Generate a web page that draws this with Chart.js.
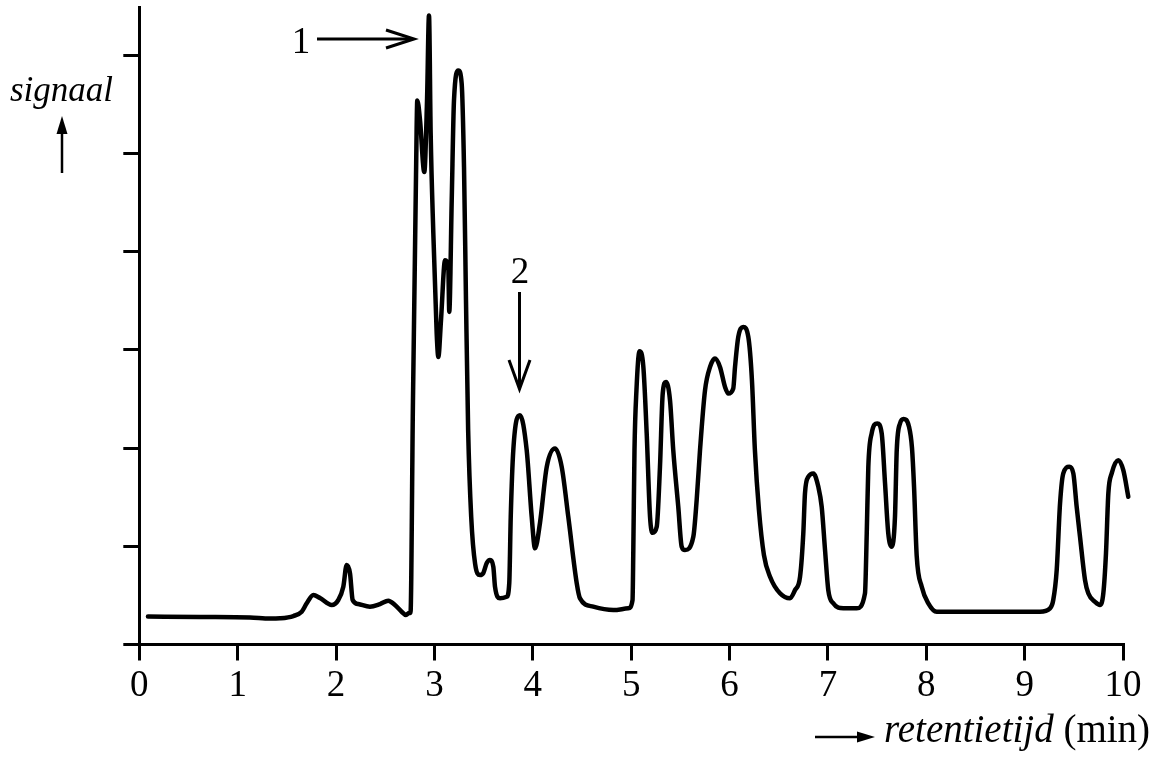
<!DOCTYPE html>
<html>
<head>
<meta charset="utf-8">
<script src="https://cdn.jsdelivr.net/npm/chart.js@4/dist/chart.umd.min.js"></script>
<style>
  html, body { margin: 0; padding: 0; background: #fff; }
  #wrap { width: 1156px; height: 761px; position: relative; }
  canvas { display: block; }
</style>
</head>
<body>
<div id="wrap"><canvas id="c" width="1156" height="761"></canvas></div>
<script>
// Retention time (min) and detector signal (arbitrary units = y tick spacing)
const retentionTime = [
  0.088, 0.617, 1.125, 1.329, 1.430, 1.566, 1.651, 1.702, 1.769, 1.837,
  1.956, 2.023, 2.074, 2.108, 2.142, 2.169, 2.226, 2.345, 2.447, 2.531,
  2.599, 2.667, 2.711, 2.745, 2.757, 2.782, 2.813, 2.826, 2.854, 2.897,
  2.925, 2.945, 2.962, 2.989, 3.023, 3.040, 3.067, 3.108, 3.141, 3.151,
  3.176, 3.199, 3.243, 3.277, 3.301, 3.321, 3.343, 3.374, 3.414, 3.463,
  3.497, 3.532, 3.565, 3.599, 3.616, 3.667, 3.735, 3.761, 3.776, 3.802,
  3.870, 3.938, 3.989, 4.023, 4.073, 4.142, 4.226, 4.294, 4.361, 4.447,
  4.480, 4.615, 4.819, 4.971, 5.014, 5.022, 5.034, 5.054, 5.085, 5.124,
  5.158, 5.192, 5.219, 5.260, 5.293, 5.321, 5.354, 5.395, 5.428, 5.479,
  5.514, 5.547, 5.632, 5.666, 5.700, 5.751, 5.802, 5.852, 5.903, 5.954,
  5.988, 6.038, 6.056, 6.089, 6.140, 6.191, 6.228, 6.258, 6.299, 6.350,
  6.412, 6.513, 6.615, 6.666, 6.717, 6.750, 6.767, 6.801, 6.852, 6.903,
  6.937, 6.971, 7.004, 7.055, 7.157, 7.293, 7.377, 7.395, 7.411, 7.445,
  7.502, 7.547, 7.581, 7.614, 7.649, 7.682, 7.700, 7.733, 7.769, 7.824,
  7.855, 7.876, 7.903, 7.954, 8.021, 8.106, 8.411, 8.750, 9.156, 9.258,
  9.291, 9.326, 9.360, 9.393, 9.454, 9.495, 9.529, 9.563, 9.614, 9.647,
  9.715, 9.766, 9.800, 9.827, 9.851, 9.885, 9.952, 10.003, 10.054
];
const signal = [
  0.285, 0.280, 0.275, 0.264, 0.267, 0.290, 0.334, 0.419, 0.504, 0.473,
  0.402, 0.453, 0.588, 0.809, 0.724, 0.453, 0.412, 0.385, 0.412, 0.446,
  0.402, 0.334, 0.300, 0.323, 0.321, 2.487, 4.776, 5.539, 5.336, 4.810,
  5.539, 6.404, 5.203, 4.186, 3.169, 2.928, 3.301, 3.911, 3.843, 3.386,
  4.522, 5.539, 5.844, 5.712, 4.858, 3.505, 2.180, 1.300, 0.820, 0.707,
  0.727, 0.829, 0.860, 0.791, 0.588, 0.470, 0.486, 0.626, 1.300, 1.979,
  2.335, 1.979, 1.300, 0.979, 1.236, 1.809, 1.996, 1.809, 1.300, 0.623,
  0.470, 0.385, 0.351, 0.368, 0.453, 0.961, 1.979, 2.589, 2.986, 2.826,
  2.149, 1.300, 1.137, 1.198, 1.809, 2.555, 2.673, 2.487, 1.979, 1.402,
  0.995, 0.961, 1.097, 1.470, 1.979, 2.589, 2.826, 2.911, 2.826, 2.623,
  2.555, 2.606, 2.826, 3.131, 3.233, 3.131, 2.690, 1.979, 1.370, 0.910,
  0.690, 0.521, 0.470, 0.554, 0.690, 1.131, 1.538, 1.707, 1.742, 1.605,
  1.402, 0.961, 0.554, 0.419, 0.368, 0.368, 0.521, 1.131, 1.809, 2.149,
  2.250, 2.149, 1.640, 1.131, 0.995, 1.300, 1.979, 2.250, 2.296, 2.220,
  2.000, 1.600, 0.900, 0.588, 0.419, 0.334, 0.334, 0.334, 0.334, 0.368,
  0.453, 0.758, 1.436, 1.742, 1.809, 1.742, 1.402, 1.097, 0.656, 0.521,
  0.435, 0.402, 0.521, 0.928, 1.538, 1.742, 1.877, 1.775, 1.504
];
const xTickValues = [0, 1, 2, 3, 4, 5, 6, 7, 8, 9, 10];
const yTickValues = [0, 1, 2, 3, 4, 5, 6];
const yAxisLabel = 'signaal';
const xAxisLabelItalic = 'retentietijd';
const xAxisLabelUnit = ' (min)';
const peakMarkers = ['1', '2'];

const points = retentionTime.map((t, i) => ({ x: t, y: signal[i] }));
const SERIF = '"Liberation Serif", "Times New Roman", serif';

function drawLine(ctx, x1, y1, x2, y2) {
  ctx.beginPath(); ctx.moveTo(x1, y1); ctx.lineTo(x2, y2); ctx.stroke();
}
function fillTri(ctx, pts) {
  ctx.beginPath(); ctx.moveTo(pts[0], pts[1]); ctx.lineTo(pts[2], pts[3]);
  ctx.lineTo(pts[4], pts[5]); ctx.closePath(); ctx.fill();
}

const annotations = {
  id: 'annotations',
  afterDraw(chart) {
    const ctx = chart.ctx;
    ctx.save();
    ctx.fillStyle = '#000';
    ctx.strokeStyle = '#000';
    ctx.lineCap = 'butt';
    ctx.textBaseline = 'alphabetic';

    // y-axis label with upward arrow
    ctx.font = 'italic 35px ' + SERIF;
    ctx.textAlign = 'left';
    ctx.fillText(yAxisLabel, 10, 101);
    ctx.lineWidth = 2.5;
    drawLine(ctx, 62, 173, 62, 128);
    fillTri(ctx, [62, 116, 56.5, 134, 67.5, 134]);

    // x-axis label with arrow
    drawLine(ctx, 815, 737, 862, 737);
    fillTri(ctx, [875, 737, 857, 731.5, 857, 742.5]);
    ctx.font = 'italic 39px ' + SERIF;
    ctx.fillText(xAxisLabelItalic, 884, 742);
    const w = ctx.measureText(xAxisLabelItalic).width;
    ctx.font = '39px ' + SERIF;
    ctx.fillText(xAxisLabelUnit, 884 + w, 742);

    // peak marker 1
    ctx.font = '37px ' + SERIF;
    ctx.textAlign = 'center';
    ctx.fillText(peakMarkers[0], 301, 53);
    ctx.lineWidth = 3;
    drawLine(ctx, 317, 39, 412, 39);
    ctx.beginPath();
    ctx.moveTo(386, 30); ctx.lineTo(414, 39); ctx.lineTo(386, 48);
    ctx.stroke();

    // peak marker 2
    ctx.fillText(peakMarkers[1], 520, 283);
    drawLine(ctx, 519.5, 292, 519.5, 386);
    ctx.beginPath();
    ctx.moveTo(509, 360); ctx.lineTo(519.5, 389); ctx.lineTo(530, 360);
    ctx.stroke();
    ctx.restore();
  }
};

new Chart(document.getElementById('c'), {
  type: 'scatter',
  data: {
    datasets: [{
      data: points,
      showLine: true,
      borderColor: '#000',
      borderWidth: 4.5,
      pointRadius: 0,
      cubicInterpolationMode: 'monotone',
      borderJoinStyle: 'round',
      borderCapStyle: 'round',
      clip: false
    }]
  },
  options: {
    responsive: false,
    animation: false,
    devicePixelRatio: 1,
    layout: { padding: { left: 0, top: 7, right: 33, bottom: 0 } },
    plugins: { legend: { display: false }, tooltip: { enabled: false }, title: { display: false } },
    scales: {
      x: {
        type: 'linear',
        bounds: 'data',
        afterDataLimits: (s) => { s.min = 0; s.max = 10; },
        afterBuildTicks: (s) => { s.ticks = xTickValues.map(v => ({ value: v })); },
        afterFit: (s) => { s.height = 116.5; },
        grid: { drawOnChartArea: false, drawTicks: true, tickLength: 16, tickColor: '#000', tickWidth: 3, color: '#000', lineWidth: 3 },
        border: { display: true, color: '#000', width: 3 },
        ticks: { color: '#000', font: { family: SERIF, size: 37 }, padding: 4, maxRotation: 0, autoSkip: false }
      },
      y: {
        type: 'linear',
        bounds: 'data',
        min: 0, max: 6.49,
        afterBuildTicks: (s) => { s.ticks = yTickValues.map(v => ({ value: v })); },
        afterFit: (s) => { s.width = 139.3; },
        grid: { drawOnChartArea: false, drawTicks: true, tickLength: 16, tickColor: '#000', tickWidth: 3, color: '#000', lineWidth: 3 },
        border: { display: true, color: '#000', width: 3 },
        ticks: { display: false }
      }
    }
  },
  plugins: [annotations]
});
</script>
</body>
</html>
